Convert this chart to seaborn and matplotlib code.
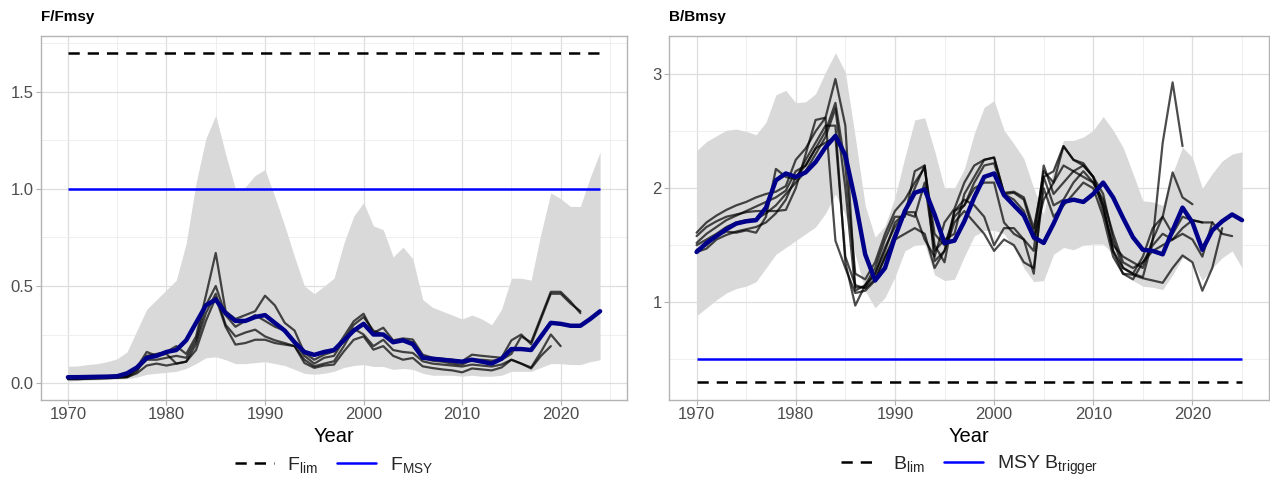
import numpy as np
import pandas as pd
import matplotlib
matplotlib.use("Agg")
import matplotlib.pyplot as plt
import seaborn as sns
from matplotlib.lines import Line2D
from matplotlib.ticker import MultipleLocator

# ------------------------------------------------------------------
# data
# ------------------------------------------------------------------
F_YEARS = list(range(1970, 2025))
B_YEARS = list(range(1970, 2026))

F_LIM = 1.7
F_MSY = 1.0
B_LIM = 0.3
B_TRIGGER = 0.5

F_UPPER = [0.086, 0.088, 0.095, 0.10, 0.11, 0.125, 0.16, 0.27, 0.38, 0.43,
           0.48, 0.53, 0.72, 1.03, 1.26, 1.38, 1.18, 1.00, 1.01, 1.07,
           1.10, 0.96, 0.81, 0.65, 0.50, 0.46, 0.50, 0.54, 0.72, 0.86,
           0.93, 0.81, 0.79, 0.65, 0.70, 0.64, 0.43, 0.39, 0.37, 0.35,
           0.33, 0.35, 0.33, 0.30, 0.38, 0.54, 0.54, 0.53, 0.77, 0.98,
           0.95, 0.91, 0.91, 1.06, 1.19]
F_LOWER = [0.01, 0.012, 0.014, 0.016, 0.018, 0.02, 0.022, 0.03, 0.045, 0.05,
           0.055, 0.06, 0.075, 0.10, 0.13, 0.135, 0.12, 0.10, 0.10, 0.105,
           0.11, 0.10, 0.09, 0.07, 0.05, 0.045, 0.05, 0.06, 0.08, 0.09,
           0.095, 0.085, 0.085, 0.07, 0.075, 0.07, 0.05, 0.04, 0.04, 0.04,
           0.035, 0.04, 0.035, 0.035, 0.04, 0.06, 0.06, 0.06, 0.08, 0.10,
           0.10, 0.095, 0.095, 0.11, 0.12]
F_MEDIAN = [0.03, 0.03, 0.031, 0.032, 0.033, 0.035, 0.05, 0.08, 0.13, 0.14,
            0.16, 0.17, 0.22, 0.31, 0.40, 0.43, 0.36, 0.32, 0.32, 0.34,
            0.35, 0.31, 0.27, 0.21, 0.16, 0.145, 0.16, 0.17, 0.22, 0.27,
            0.305, 0.25, 0.25, 0.21, 0.22, 0.20, 0.13, 0.125, 0.12, 0.115,
            0.11, 0.12, 0.11, 0.10, 0.125, 0.175, 0.175, 0.17, 0.24, 0.31,
            0.305, 0.295, 0.295, 0.33, 0.37]

# retrospective runs, all starting in 1970
F_RETRO = [
    [0.02, 0.02, 0.022, 0.024, 0.025, 0.027, 0.03, 0.06, 0.14, 0.15,
     0.16, 0.19, 0.15, 0.24, 0.45, 0.67, 0.37, 0.33, 0.35, 0.37,
     0.45, 0.40, 0.31, 0.27, 0.155, 0.12, 0.146, 0.163, 0.24, 0.318,
     0.357, 0.258, 0.285, 0.22, 0.23, 0.224, 0.146, 0.13, 0.125, 0.12,
     0.112, 0.146, 0.14, 0.135, 0.13, 0.22, 0.25, 0.20, 0.33, 0.46,
     0.46, 0.41, 0.37],
    [0.025, 0.025, 0.027, 0.028, 0.03, 0.032, 0.035, 0.07, 0.12, 0.12,
     0.13, 0.14, 0.13, 0.22, 0.40, 0.50, 0.35, 0.29, 0.32, 0.35,
     0.32, 0.29, 0.27, 0.21, 0.14, 0.10, 0.13, 0.14, 0.22, 0.30,
     0.34, 0.27, 0.25, 0.21, 0.22, 0.21, 0.13, 0.115, 0.11, 0.10,
     0.095, 0.12, 0.12, 0.115, 0.12, 0.15, 0.24, 0.21, 0.34, 0.47,
     0.47, 0.42, 0.36],
    [0.02, 0.02, 0.022, 0.023, 0.025, 0.027, 0.03, 0.05, 0.09, 0.10,
     0.09, 0.10, 0.11, 0.20, 0.36, 0.46, 0.30, 0.24, 0.26, 0.275,
     0.24, 0.22, 0.206, 0.19, 0.12, 0.086, 0.10, 0.112, 0.19, 0.28,
     0.25, 0.19, 0.223, 0.17, 0.16, 0.155, 0.112, 0.10, 0.095, 0.09,
     0.085, 0.095, 0.09, 0.085, 0.095, 0.12, 0.10, 0.08, 0.16, 0.25,
     0.19],
    [0.03, 0.03, 0.03, 0.032, 0.034, 0.036, 0.04, 0.08, 0.16, 0.14,
     0.15, 0.10, 0.11, 0.17, 0.32, 0.44, 0.29, 0.198, 0.206, 0.223,
     0.223, 0.206, 0.198, 0.19, 0.103, 0.078, 0.09, 0.095, 0.163, 0.223,
     0.24, 0.172, 0.19, 0.14, 0.12, 0.129, 0.086, 0.077, 0.07, 0.065,
     0.055, 0.075, 0.07, 0.065, 0.08, 0.12, 0.10, 0.075, 0.14, 0.19],
]

B_UPPER = [2.33, 2.41, 2.46, 2.51, 2.52, 2.50, 2.47, 2.58, 2.82, 2.86,
           2.75, 2.76, 2.83, 3.02, 3.19, 3.02, 2.45, 1.85, 1.57, 1.67,
           1.92, 2.27, 2.60, 2.62, 2.33, 2.00, 2.00, 2.17, 2.48, 2.71,
           2.77, 2.51, 2.39, 2.26, 2.00, 1.77, 2.19, 2.42, 2.42, 2.45,
           2.51, 2.63, 2.51, 2.36, 2.13, 1.89, 1.88, 1.85, 2.13, 2.36,
           2.27, 2.00, 2.13, 2.24, 2.30, 2.32]
B_LOWER = [0.88, 0.95, 1.02, 1.08, 1.12, 1.14, 1.18, 1.30, 1.42, 1.48,
           1.54, 1.60, 1.66, 1.78, 1.95, 1.77, 1.42, 1.10, 0.95, 1.04,
           1.22, 1.45, 1.50, 1.51, 1.24, 1.19, 1.20, 1.40, 1.58, 1.63,
           1.63, 1.60, 1.48, 1.30, 1.18, 1.19, 1.42, 1.48, 1.46, 1.50,
           1.51, 1.51, 1.42, 1.30, 1.19, 1.14, 1.13, 1.11, 1.24, 1.39,
           1.36, 1.19, 1.30, 1.39, 1.45, 1.30]
B_MEDIAN = [1.44, 1.52, 1.58, 1.64, 1.69, 1.71, 1.72, 1.83, 2.07, 2.13,
            2.10, 2.14, 2.23, 2.36, 2.46, 2.29, 1.89, 1.42, 1.19, 1.30,
            1.57, 1.80, 1.96, 1.99, 1.77, 1.52, 1.54, 1.71, 1.92, 2.10,
            2.13, 1.94, 1.85, 1.76, 1.57, 1.52, 1.69, 1.88, 1.90, 1.88,
            1.95, 2.05, 1.92, 1.74, 1.57, 1.46, 1.45, 1.42, 1.63, 1.83,
            1.70, 1.46, 1.63, 1.71, 1.77, 1.72]

B_RETRO = [
    [1.61, 1.70, 1.76, 1.81, 1.85, 1.88, 1.92, 1.95, 1.97, 2.02,
     2.25, 2.35, 2.50, 2.62, 2.96, 2.55, 1.13, 1.13, 1.25, 1.48,
     1.66, 1.79, 1.79, 1.55, 1.40, 1.70, 1.82, 2.05, 2.20, 2.25,
     2.27, 1.95, 1.96, 1.90, 1.60, 2.15, 2.05, 2.37, 2.25, 2.22,
     2.10, 1.95, 1.55, 1.30, 1.25, 1.22, 1.55, 2.40, 2.93, 2.37],
    [1.58, 1.66, 1.71, 1.75, 1.77, 1.79, 1.80, 1.80, 1.80, 1.81,
     2.00, 2.30, 2.60, 2.62, 1.54, 1.30, 1.08, 1.10, 1.19, 1.39,
     1.60, 1.79, 2.00, 2.20, 1.36, 1.45, 1.80, 1.85, 2.00, 2.05,
     2.05, 1.70, 1.60, 1.55, 1.45, 2.20, 1.95, 2.05, 2.15, 2.20,
     2.10, 1.80, 1.50, 1.40, 1.35, 1.30, 1.55, 1.75, 2.14, 1.92,
     1.86],
    [1.46, 1.50, 1.58, 1.62, 1.61, 1.63, 1.61, 1.75, 2.17, 2.10,
     2.08, 2.25, 2.40, 2.55, 2.55, 1.35, 0.97, 1.15, 1.30, 1.55,
     1.75, 1.75, 2.15, 2.20, 1.50, 1.35, 1.80, 1.90, 1.85, 1.75,
     1.50, 1.65, 1.65, 1.55, 1.25, 2.10, 1.85, 1.90, 2.05, 2.15,
     2.05, 1.85, 1.45, 1.30, 1.25, 1.40, 1.65, 1.75, 1.60, 1.75,
     1.72, 1.70],
    [1.44, 1.47, 1.55, 1.59, 1.62, 1.64, 1.66, 1.70, 1.78, 1.90,
     2.10, 2.20, 2.35, 2.40, 2.45, 1.40, 1.15, 1.12, 1.20, 1.40,
     1.55, 1.60, 1.65, 1.60, 1.30, 1.45, 1.70, 1.80, 1.70, 1.60,
     1.45, 1.55, 1.50, 1.35, 1.30, 2.00, 1.75, 1.85, 1.95, 2.05,
     2.00, 1.75, 1.40, 1.25, 1.20, 1.35, 1.50, 1.60, 1.55, 1.65,
     1.72, 1.70, 1.70],
    [1.50, 1.55, 1.60, 1.66, 1.70, 1.72, 1.73, 1.78, 1.85, 1.95,
     2.05, 2.15, 2.30, 2.45, 2.70, 2.00, 1.10, 1.15, 1.25, 1.45,
     1.70, 1.78, 1.75, 2.05, 1.45, 1.55, 1.60, 1.95, 2.10, 2.25,
     2.27, 1.96, 1.97, 1.92, 1.65, 2.10, 2.15, 2.37, 2.25, 2.20,
     2.10, 1.85, 1.45, 1.25, 1.24, 1.21, 1.19, 1.17, 1.30, 1.41,
     1.35, 1.10, 1.30, 1.65],
    [1.52, 1.60, 1.66, 1.72, 1.76, 1.80, 1.84, 1.88, 1.92, 1.98,
     2.15, 2.20, 2.35, 2.50, 2.75, 2.20, 1.25, 1.20, 1.35, 1.60,
     1.80, 1.90, 2.05, 2.18, 1.60, 1.50, 1.75, 1.85, 2.05, 2.20,
     2.22, 1.95, 1.90, 1.80, 1.55, 1.90, 2.05, 2.20, 2.15, 2.10,
     2.05, 1.90, 1.60, 1.35, 1.30, 1.35, 1.45, 1.50, 1.55, 1.60,
     1.55, 1.40, 1.70, 1.60, 1.58],
]

# ------------------------------------------------------------------
# styling
# ------------------------------------------------------------------
sns.set_theme(style="whitegrid")
plt.rcParams['font.family'] = ['Liberation Sans', 'DejaVu Sans']
plt.rcParams['mathtext.fontset'] = 'custom'
plt.rcParams['mathtext.rm'] = 'Liberation Sans'
plt.rcParams['mathtext.it'] = 'Liberation Sans:italic'

RIBBON = '#D9D9D9'
MEDIAN_COL = '#00008B'
REF_BLUE = '#0000FF'
DASH = (0, (4.5, 3.2))

W, H = 1270, 488
fig = plt.figure(figsize=(W / 100, H / 100), dpi=100)
fig.patch.set_facecolor('white')

top_px, bot_px = 35.7, 399.5
axF = fig.add_axes([41.3 / W, 1 - bot_px / H, (626.7 - 41.3) / W, (bot_px - top_px) / H])
axB = fig.add_axes([669.3 / W, 1 - bot_px / H, (1269.3 - 669.3) / W, (bot_px - top_px) / H])


def style_axis(ax):
    ax.set_facecolor('white')
    for sp in ax.spines.values():
        sp.set_color('#B3B3B3')
        sp.set_linewidth(1.0)
    ax.set_axisbelow(True)
    ax.grid(which='major', color='#DEDEDE', linewidth=0.9)
    ax.grid(which='minor', color='#EDEDED', linewidth=0.6)
    ax.tick_params(which='major', length=3.5, width=0.8, color='#B3B3B3',
                   labelcolor='#4D4D4D', labelsize=12, pad=2,
                   bottom=True, left=True)
    ax.tick_params(which='minor', length=0)
    ax.xaxis.set_major_locator(MultipleLocator(10))
    ax.xaxis.set_minor_locator(MultipleLocator(5))
    ax.set_xlabel('')
    ax.set_ylabel('')


def draw_panel(ax, years, lower, upper, retro, median, lim, trig):
    ax.fill_between(years, lower, upper, color=RIBBON, linewidth=0)
    for run in retro:
        sns.lineplot(x=years[:len(run)], y=run, ax=ax, color='black',
                     alpha=0.7, linewidth=1.6, legend=False)
    ax.hlines(trig, years[0], years[-1], colors=REF_BLUE, linewidth=1.8)
    ax.hlines(lim, years[0], years[-1], colors='black', linewidth=1.8,
              linestyles=[DASH])
    sns.lineplot(x=years, y=median, ax=ax, color=MEDIAN_COL,
                 linewidth=3.2, legend=False)


draw_panel(axF, F_YEARS, F_LOWER, F_UPPER, F_RETRO, F_MEDIAN, F_LIM, F_MSY)
draw_panel(axB, B_YEARS, B_LOWER, B_UPPER, B_RETRO, B_MEDIAN, B_LIM, B_TRIGGER)

style_axis(axF)
style_axis(axB)

axF.set_xlim(1967.3, 2026.7)
axF.set_ylim(-0.085, 1.79)
axF.yaxis.set_major_locator(MultipleLocator(0.5))
axF.yaxis.set_minor_locator(MultipleLocator(0.25))

axB.set_xlim(1967.25, 2027.75)
axB.set_ylim(0.145, 3.34)
axB.yaxis.set_major_locator(MultipleLocator(1))
axB.yaxis.set_minor_locator(MultipleLocator(0.5))

# titles, axis titles and legends
for ax, title, labels in [
    (axF, 'F/Fmsy', [r'$\mathrm{F_{lim}}$', r'$\mathrm{F_{MSY}}$']),
    (axB, 'B/Bmsy', [r'$\mathrm{B_{lim}}$', r'$\mathrm{MSY\ B_{trigger}}$']),
]:
    pos = ax.get_position()
    cx = (pos.x0 + pos.x1) / 2
    fig.text(pos.x0, 1 - 17 / H, title, fontsize=11, fontweight='bold',
             ha='left', va='center', color='black')
    fig.text(cx, 1 - 437 / H, 'Year', fontsize=14.5, ha='center',
             va='center', color='black')
    handles = [
        Line2D([], [], color='black', linewidth=1.8, linestyle=DASH),
        Line2D([], [], color=REF_BLUE, linewidth=1.8),
    ]
    fig.legend(handles, labels, loc='center', bbox_to_anchor=(cx, 1 - 465 / H),
               ncol=2, frameon=False, fontsize=14, handlelength=2.0,
               handletextpad=0.7, columnspacing=1.0)

fig.savefig('out.png', dpi=100, facecolor='white')
